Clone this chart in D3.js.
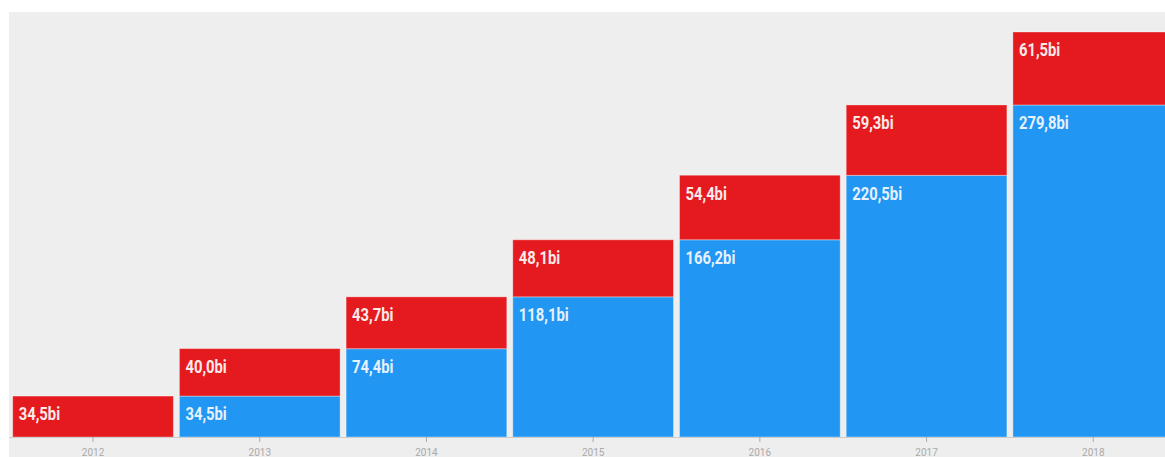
<!DOCTYPE html>
<html>
<head>
<meta charset="utf-8">
<script src="https://cdn.jsdelivr.net/npm/d3@7"></script>
<style>
  html, body { margin: 0; padding: 0; background: #fff; overflow: hidden; }
  svg { display: block; }
</style>
</head>
<body>
<div id="chart"></div>
<script>
const years = ['2012', '2013', '2014', '2015', '2016', '2017', '2018'];
const previous = [0, 34.5, 74.4, 118.1, 166.2, 220.5, 279.8];
const added = [34.5, 40.0, 43.7, 48.1, 54.4, 59.3, 61.5];
const addedLabels = ['34,5bi', '40,0bi', '43,7bi', '48,1bi', '54,4bi', '59,3bi', '61,5bi'];
const previousLabels = ['', '34,5bi', '74,4bi', '118,1bi', '166,2bi', '220,5bi', '279,8bi'];

const W = 1165, H = 457;
const margin = { top: 12, left: 9, bottom: 20 };
const baseline = H - margin.bottom;

const svg = d3.select('#chart').append('svg')
  .attr('width', W)
  .attr('height', H);

svg.append('rect')
  .attr('x', margin.left).attr('y', margin.top)
  .attr('width', W - margin.left).attr('height', H - margin.top)
  .attr('fill', '#eeeeee');

const x = d3.scaleBand()
  .domain(years)
  .range([margin.left + 0.7, margin.left + 0.7 + 7 * 166.7])
  .paddingInner(0.036)
  .paddingOuter(0.018);

const maxTotal = d3.max(years, (_, i) => previous[i] + added[i]);
const y = d3.scaleLinear().domain([0, maxTotal]).range([baseline, 32]);

const rows = years.map((yr, i) => ({
  year: yr, prev: previous[i], add: added[i],
  prevLabel: previousLabels[i], addLabel: addedLabels[i]
}));

// blue: cumulative from earlier years
svg.selectAll('.bar-prev')
  .data(rows.filter(d => d.prev > 0))
  .enter().append('rect')
  .attr('x', d => x(d.year))
  .attr('y', d => y(d.prev))
  .attr('width', x.bandwidth())
  .attr('height', d => y(0) - y(d.prev))
  .attr('fill', '#2196f3')
  .attr('stroke', '#fff').attr('stroke-opacity', 0.35);

// red: this year's value, stacked on top
svg.selectAll('.bar-add')
  .data(rows)
  .enter().append('rect')
  .attr('x', d => x(d.year))
  .attr('y', d => y(d.prev + d.add))
  .attr('width', x.bandwidth())
  .attr('height', d => y(d.prev) - y(d.prev + d.add))
  .attr('fill', '#e41a1e')
  .attr('stroke', '#fff').attr('stroke-opacity', 0.35);

// condensed look: Roboto squeezed horizontally
const labelFont = 'Roboto, "DejaVu Sans Condensed", sans-serif';

function addLabels(data, yOf, textOf, fill) {
  svg.selectAll(null)
    .data(data)
    .enter().append('text')
    .attr('transform', d => `translate(${x(d.year) + 6},${yOf(d) + 24.3}) scale(0.78,1)`)
    .attr('font-family', labelFont)
    .attr('font-weight', 'bold')
    .attr('font-size', 19)
    .attr('fill', fill)
    .text(textOf);
}
addLabels(rows.filter(d => d.prev > 0), d => y(d.prev), d => d.prevLabel, '#e6f1fd');
addLabels(rows, d => y(d.prev + d.add), d => d.addLabel, '#fbeaea');

const xAxis = svg.append('g')
  .attr('transform', `translate(0,${baseline})`)
  .call(d3.axisBottom(x).tickSize(5).tickSizeOuter(0).tickPadding(7));
xAxis.select('.domain')
  .attr('d', `M${margin.left},0.5H${W}`)
  .attr('stroke', '#cccccc');
xAxis.selectAll('.tick line').attr('stroke', '#aaaaaa');
xAxis.selectAll('text')
  .attr('fill', '#aaaaaa')
  .attr('font-family', 'Roboto, "Liberation Sans", sans-serif')
  .attr('font-size', 10);
</script>
</body>
</html>
